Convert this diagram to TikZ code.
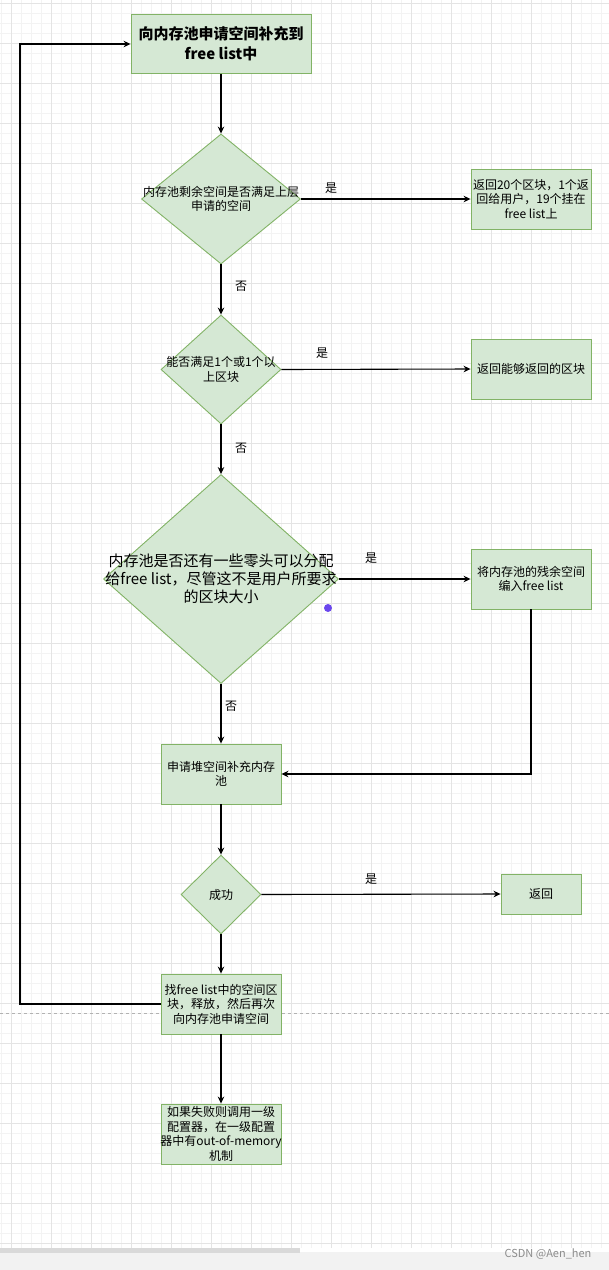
\documentclass[tikz,border=0pt]{standalone}
\usepackage{fontspec}
\setmainfont{Noto Sans CJK SC}
\usetikzlibrary{shapes.geometric,arrows.meta}
\definecolor{fillg}{HTML}{D5E8D4}
\definecolor{strokeg}{HTML}{82B366}
\definecolor{gridminor}{HTML}{F3F3F3}
\definecolor{gridmajor}{HTML}{E4E4E4}
\definecolor{dotc}{HTML}{6B47EE}
\begin{document}
\begin{tikzpicture}[x=1pt,y=-1pt,
  boxst/.style={draw=strokeg,fill=fillg,line width=0.9pt,rectangle,inner sep=0pt},
  diast/.style={draw=strokeg,fill=fillg,line width=0.9pt,diamond,inner sep=0pt},
  txt/.style={align=center,font=\fontsize{12}{14.5}\selectfont,text=black,inner sep=0pt},
  lbl/.style={font=\fontsize{12}{14}\selectfont,text=black,inner sep=0pt},
  arr/.style={line width=1.1pt,black,-{Stealth[length=7pt,width=6.5pt]}},
  ln/.style={line width=1.1pt,black}]
\useasboundingbox (0,0) rectangle (609,1270);
\fill[white] (0,0) rectangle (609,1270);
% grid
\foreach \i in {0,...,61} {\draw[gridminor,line width=0.5pt] (1.7+\i*10,0) -- (1.7+\i*10,1248);}
\foreach \j in {0,...,124} {\draw[gridminor,line width=0.5pt] (0,3+\j*10) -- (609,3+\j*10);}
\foreach \i in {0,...,15} {\draw[gridmajor,line width=0.6pt] (11.7+\i*40,0) -- (11.7+\i*40,1248);}
\foreach \j in {0,...,31} {\draw[gridmajor,line width=0.6pt] (0,3+\j*40) -- (609,3+\j*40);}
% bottom bar
\fill[black!5] (0,1252) rectangle (609,1270);
\fill[black!15] (0,1248) rectangle (300,1253);
\node[font=\fontsize{11}{13}\selectfont,text=black!45,inner sep=0pt] (wm) at (548,1254) {CSDN @Aen\_hen};
% dashed page break
\draw[black!30,dashed,line width=0.7pt] (0,1013) -- (609,1013);

% nodes
\node[boxst,minimum width=180pt,minimum height=59pt] (b1) at (221,44) {};
\node[txt,font=\fontsize{15}{20}\selectfont\bfseries] (t1) at (b1) {向内存池申请空间补充到\\free list中};

\node[diast,minimum width=159pt,minimum height=130pt] (d1) at (221,199) {};
\node[txt] (t2) at (d1) {内存池剩余空间是否满足上层\\申请的空间};

\node[boxst,minimum width=120pt,minimum height=60pt] (b2) at (531,199) {};
\node[txt] (t3) at (b2) {返回20个区块，1个返\\回给用户，19个挂在\\free list上};

\node[diast,minimum width=120pt,minimum height=109pt] (d2) at (221,369.5) {};
\node[txt] (t4) at (d2) {能否满足1个或1个以\\上区块};

\node[boxst,minimum width=120pt,minimum height=60pt] (b3) at (531,369) {};
\node[txt] (t5) at (b3) {返回能够返回的区块};

\node[diast,minimum width=235pt,minimum height=209pt] (d3) at (221,579) {};
\node[txt,font=\fontsize{15}{18.3}\selectfont] (t6) at (d3) {内存池是否还有一些零头可以分配\\给free list，尽管这不是用户所要求\\的区块大小};

\node[boxst,minimum width=120pt,minimum height=60pt] (b4) at (531,579) {};
\node[txt] (t7) at (b4) {将内存池的残余空间\\编入free list};

\node[boxst,minimum width=120pt,minimum height=60pt] (b5) at (221,774) {};
\node[txt] (t8) at (b5) {申请堆空间补充内存\\池};

\node[diast,minimum width=80pt,minimum height=79pt] (d4) at (221,894.5) {};
\node[txt] (t9) at (d4) {成功};

\node[boxst,minimum width=80pt,minimum height=40pt] (b6) at (541,894) {};
\node[txt] (t10) at (b6) {返回};

\node[boxst,minimum width=120pt,minimum height=60pt] (b7) at (221,1004) {};
\node[txt] (t11) at (b7) {找free list中的空间区\\块，释放，然后再次\\向内存池申请空间};

\node[boxst,minimum width=120pt,minimum height=60pt] (b8) at (221,1134) {};
\node[txt,font=\fontsize{12}{14.8}\selectfont] (t12) at (b8) {如果失败则调用一级\\配置器，在一级配置\\器中有out-of-memory\\机制};

\coordinate (lb) at (20,1004);
\coordinate (lt) at (20,44);

% connectors
\draw[arr] (b1.south) -- (d1.north);
\draw[arr] (d1.east) -- (b2.west);
\draw[arr] (d1.south) -- (d2.north);
\draw[arr] (d2.east) -- (b3.west);
\draw[arr] (d2.south) -- (d3.north);
\draw[arr] (d3.east) -- (b4.west);
\draw[arr] (d3.south) -- (b5.north);
\draw[arr] (b4.south) |- (b5.east);
\draw[arr] (b5.south) -- (d4.north);
\draw[arr] (d4.east) -- (b6.west);
\draw[arr] (d4.south) -- (b7.north);
\draw[arr] (b7.west) -- (lb) -- (lt) -- (b1.west);
\draw[arr] (b7.south) -- (b8.north);

% labels
\node[lbl] (l1) at (331,188) {是};
\node[lbl] (l2) at (241,286) {否};
\node[lbl] (l3) at (322,353) {是};
\node[lbl] (l4) at (241,448) {否};
\node[lbl] (l5) at (371,558) {是};
\node[lbl] (l6) at (231,706) {否};
\node[lbl] (l7) at (371,879) {是};

% dot
\fill[dotc] (328,608) circle (4pt);
\end{tikzpicture}
\end{document}
